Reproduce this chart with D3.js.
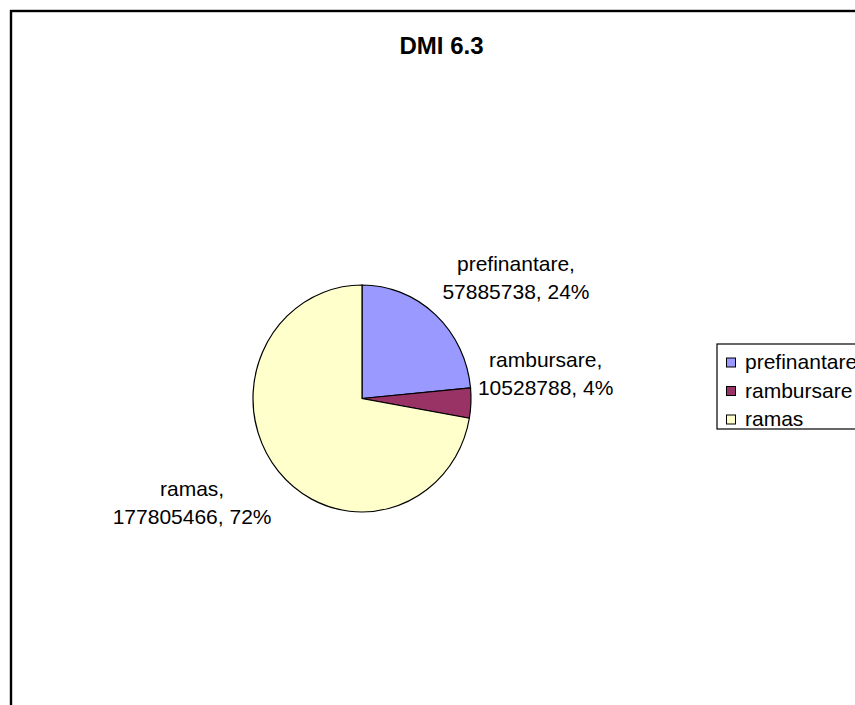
<!DOCTYPE html>
<html>
<head>
<meta charset="utf-8">
<script src="https://cdn.jsdelivr.net/npm/d3@7"></script>
<style>
  body { margin: 0; background: #fff; }
  svg text { font-family: "Liberation Sans", Arial, sans-serif; fill: #000; }
</style>
</head>
<body>
<script>
// data
var categories = ["prefinantare", "rambursare", "ramas"];
var amounts = [57885738, 10528788, 177805466];
var sliceColors = ["#9999FF", "#993366", "#FFFFCC"];
var chartTitle = "DMI 6.3";

var W = 855, H = 705;
var svg = d3.select("body").append("svg")
    .attr("width", W).attr("height", H);

// chart frame (runs off the right and bottom edges)
svg.append("rect")
    .attr("x", 11).attr("y", 11)
    .attr("width", 900).attr("height", 800)
    .attr("fill", "#fff").attr("stroke", "#000").attr("stroke-width", 2.4);

svg.append("text")
    .attr("x", 441.5).attr("y", 54)
    .attr("text-anchor", "middle")
    .style("font-size", "24px").style("font-weight", "bold")
    .text(chartTitle);

// pie is slightly taller than wide, like the original
var cx = 362, cy = 398.5, rx = 109, ry = 113.5;
var sy = ry / rx;

var total = d3.sum(amounts);
var pie = d3.pie().sort(null).value(function (d) { return d; });
var arcs = pie(amounts);
var arc = d3.arc().innerRadius(0).outerRadius(rx);

var g = svg.append("g")
    .attr("transform", "translate(" + cx + "," + cy + ") scale(1," + sy + ")");
g.selectAll("path")
    .data(arcs)
    .enter().append("path")
    .attr("d", arc)
    .attr("fill", function (d, i) { return sliceColors[i]; })
    .attr("stroke", "#000")
    .attr("stroke-width", 1.2)
    .attr("vector-effect", "non-scaling-stroke");

// labels: box corner nearest the pie sits just outside the edge
var fs = 21, lh = 28;
arcs.forEach(function (d, i) {
  var mid = (d.startAngle + d.endAngle) / 2;
  var ax = cx + Math.sin(mid) * rx;
  var ay = cy - Math.cos(mid) * ry;
  var pct = Math.round(amounts[i] / total * 100);
  var lines = [categories[i] + ",", amounts[i] + ", " + pct + "%"];

  var t = svg.append("text")
      .attr("text-anchor", "middle")
      .style("font-size", fs + "px");
  lines.forEach(function (s, k) {
    t.append("tspan").attr("x", 0).attr("y", k * lh).text(s);
  });
  var bw = t.node().getBBox().width;
  var bh = lines.length * lh;

  var left = Math.sin(mid) > 0 ? ax + 7 : ax - 7 - bw;
  var top = ay < cy + 10 ? ay - (2 + 10 * Math.cos(mid)) - bh : ay + 3;
  t.attr("transform", "translate(" + (left + bw / 2) + "," + (top + lh / 2 + 7.5) + ")");
});

// legend
var lg = svg.append("g");
lg.append("rect")
    .attr("x", 717).attr("y", 344)
    .attr("width", 200).attr("height", 85)
    .attr("fill", "#fff").attr("stroke", "#000").attr("stroke-width", 1.2);
var rowY = d3.scalePoint().domain(categories).range([362.5, 419.5]);
categories.forEach(function (c, i) {
  lg.append("rect")
      .attr("x", 726.5).attr("y", rowY(c) - 4.5)
      .attr("width", 9).attr("height", 9)
      .attr("fill", sliceColors[i]).attr("stroke", "#000").attr("stroke-width", 1);
  lg.append("text")
      .attr("x", 745).attr("y", rowY(c) + 6.5)
      .style("font-size", fs + "px")
      .text(c);
});
</script>
</body>
</html>
